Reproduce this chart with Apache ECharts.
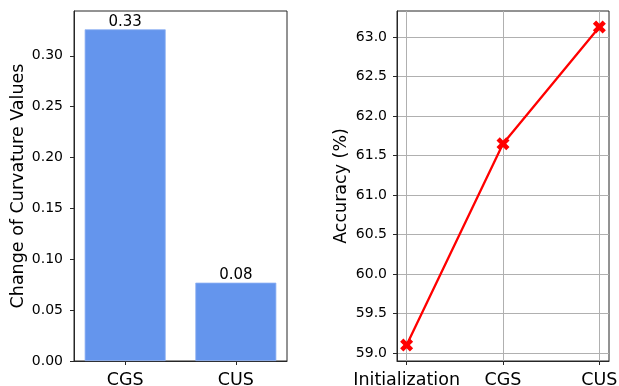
<!DOCTYPE html>
<html>
<head>
<meta charset="utf-8">
<script src="https://cdn.jsdelivr.net/npm/echarts@6/dist/echarts.min.js"></script>
<style>
  html, body { margin: 0; padding: 0; background: #fff; }
  #chart { width: 619px; height: 386px; }
</style>
</head>
<body>
<div id="chart"></div>
<script>
// Left panel: change of curvature per method
const curvCategories = ['CGS', 'CUS'];
const curvValues = [0.326, 0.077];
const curvTicks = [0, 0.05, 0.10, 0.15, 0.20, 0.25, 0.30];

// Right panel: accuracy across stages
const accCategories = ['Initialization', 'CGS', 'CUS'];
const accValues = [59.1, 61.65, 63.13];
const accTicks = [59.0, 59.5, 60.0, 60.5, 61.0, 61.5, 62.0, 62.5, 63.0];

const FONT = 'DejaVu Sans';
const INK = '#000';
const SPINE = '#262626';

// axis limits padded the way the plotting defaults do (5% margins)
function padRange(lo, hi, frac) {
  const m = (hi - lo) * frac;
  return [lo - m, hi + m];
}
const barHalf = 0.375;
const curvX = padRange(-barHalf, curvCategories.length - 1 + barHalf, 0.05);
const curvYMax = 0.344;
const accX = padRange(0, accCategories.length - 1, 0.05);
const accY = padRange(Math.min(...accValues), Math.max(...accValues), 0.05);

const curvIdx = curvCategories.map((_, i) => i);
const accIdx = accCategories.map((_, i) => i);

// filled "X" marker outline
const xMarker = 'path://M1,0 L2,1 L3,0 L4,1 L3,2 L4,3 L3,4 L2,3 L1,4 L0,3 L1,2 L0,1 Z';

const chart = echarts.init(document.getElementById('chart'), null, { renderer: 'canvas' });

function axisLine() {
  return { show: true, onZero: false, lineStyle: { color: SPINE, width: 1 } };
}
function tick(values) {
  return { show: true, length: 4, lineStyle: { color: SPINE, width: 1 }, customValues: values };
}
function panel(left, width) {
  return {
    left: left, top: 11, width: width, height: 350,
    containLabel: false, outerBoundsMode: 'none',
    show: true, borderColor: SPINE, borderWidth: 1, backgroundColor: 'transparent'
  };
}

chart.setOption({
  animation: false,
  backgroundColor: '#fff',
  textStyle: { fontFamily: FONT },
  grid: [panel(74, 213), panel(397, 212)],
  xAxis: [
    {
      gridIndex: 0, type: 'value', min: curvX[0], max: curvX[1],
      axisLine: axisLine(),
      axisTick: tick(curvIdx),
      axisLabel: {
        customValues: curvIdx, margin: 10, color: INK, fontFamily: FONT, fontSize: 17.5,
        formatter: v => curvCategories[Math.round(v)]
      },
      splitLine: { show: false }
    },
    {
      gridIndex: 1, type: 'value', min: accX[0], max: accX[1],
      axisLine: axisLine(),
      axisTick: tick(accIdx),
      axisLabel: {
        customValues: accIdx, margin: 10, color: INK, fontFamily: FONT, fontSize: 17.5,
        formatter: v => accCategories[Math.round(v)]
      },
      splitLine: { show: true, lineStyle: { color: '#b0b0b0', width: 1 } }
    }
  ],
  yAxis: [
    {
      gridIndex: 0, type: 'value', min: 0, max: curvYMax,
      name: 'Change of Curvature Values', nameLocation: 'middle', nameGap: 47,
      nameTextStyle: { fontFamily: FONT, fontSize: 17.5, color: INK },
      axisLine: axisLine(),
      axisTick: tick(curvTicks),
      axisLabel: {
        customValues: curvTicks, margin: 11, color: INK, fontFamily: FONT, fontSize: 14,
        formatter: v => v.toFixed(2)
      },
      splitLine: { show: false }
    },
    {
      gridIndex: 1, type: 'value', min: accY[0], max: accY[1],
      name: 'Accuracy (%)', nameLocation: 'middle', nameGap: 47,
      nameTextStyle: { fontFamily: FONT, fontSize: 17.5, color: INK },
      axisLine: axisLine(),
      axisTick: tick(accTicks),
      axisLabel: {
        customValues: accTicks, margin: 10, color: INK, fontFamily: FONT, fontSize: 14,
        formatter: v => v.toFixed(1)
      },
      splitLine: { show: true, lineStyle: { color: '#b0b0b0', width: 1 } }
    }
  ],
  series: [
    {
      type: 'bar', xAxisIndex: 0, yAxisIndex: 0,
      barWidth: 81,
      data: curvValues.map((v, i) => [i, v]),
      itemStyle: { color: '#6495ED', borderColor: '#8fb1f2', borderWidth: 0.8 },
      label: {
        show: true, position: 'top', distance: 0,
        color: INK, fontFamily: FONT, fontSize: 15,
        formatter: p => p.value[1].toFixed(2)
      }
    },
    {
      type: 'line', xAxisIndex: 1, yAxisIndex: 1,
      data: accValues.map((v, i) => [i, v]),
      lineStyle: { color: '#ff0000', width: 2.3 },
      itemStyle: { color: '#ff0000' },
      symbol: xMarker, symbolSize: 13, showSymbol: true
    }
  ]
});
</script>
</body>
</html>
